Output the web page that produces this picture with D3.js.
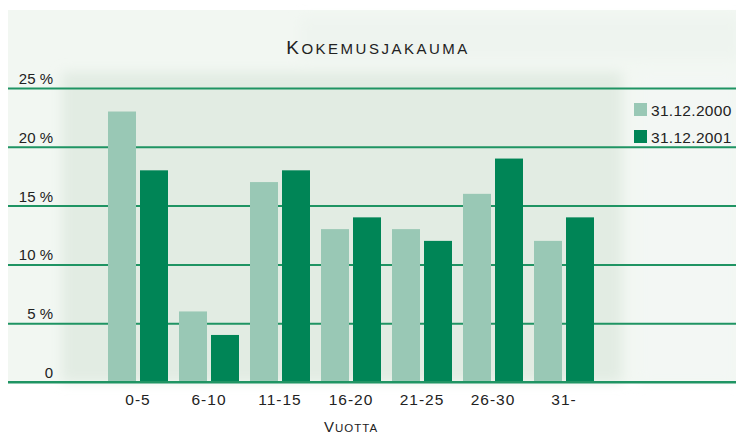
<!DOCTYPE html>
<html>
<head>
<meta charset="utf-8">
<script src="https://cdn.jsdelivr.net/npm/d3@7"></script>
<style>
	body { margin: 0; background: #fff; }
	svg { display: block; font-family: 'Liberation Sans', Arial, sans-serif; }
</style>
</head>
<body>
<script>
// data
var categories = ['0-5', '6-10', '11-15', '16-20', '21-25', '26-30', '31-'];
var seriesNames = ['31.12.2000', '31.12.2001'];
var values2000 = [23, 6, 17, 13, 13, 16, 12];
var values2001 = [18, 4, 18, 14, 12, 19, 14];
var yTicks = [0, 5, 10, 15, 20, 25];
var colors = ['#99c8b5', '#008556'];

var width = 736, height = 436;

var svg = d3.select('body')
	.append('svg')
	.attr('width', width)
	.attr('height', height);

var defs = svg.append('defs');
defs.append('filter').attr('id', 'blur')
	.append('feGaussianBlur').attr('stdDeviation', 6);

// background panel
svg.append('rect')
	.attr('x', 8).attr('y', 10)
	.attr('width', 728).attr('height', 372)
	.attr('fill', '#f2f7f2');
var bg = svg.append('g').attr('filter', 'url(#blur)');
bg.append('rect')
	.attr('x', 62).attr('y', 72)
	.attr('width', 560).attr('height', 310)
	.attr('fill', '#e2ece3');
bg.append('rect')
	.attr('x', 300).attr('y', 18)
	.attr('width', 440).attr('height', 40)
	.attr('fill', '#eef4ef');
bg.append('rect')
	.attr('x', 640).attr('y', 72)
	.attr('width', 96).attr('height', 310)
	.attr('fill', '#f3f7f4');

// scales
var x0 = d3.scaleBand()
	.domain(categories)
	.range([108, 594])
	.paddingInner(11 / 71)
	.paddingOuter(0);
var x1 = d3.scaleBand()
	.domain(seriesNames)
	.range([0, x0.bandwidth()])
	.paddingInner(0.125);
var y = d3.scaleLinear().domain([0, 25]).range([382, 88]);

// gridlines
var y_axis = d3.axisLeft(y)
	.tickValues(yTicks)
	.tickSize(-728)
	.tickFormat(function (d) { return d === 0 ? '0' : d + ' %'; });
var gy = svg.append('g')
	.attr('transform', 'translate(8,0)')
	.call(y_axis);
gy.select('.domain').remove();
gy.selectAll('.tick line')
	.attr('stroke', '#1f9463')
	.attr('stroke-width', 2);
gy.selectAll('.tick text')
	.attr('text-anchor', 'end')
	.attr('x', 45)
	.attr('dy', '-0.3em')
	.attr('fill', '#222')
	.style('font-size', '15px');

// bars
var rows = categories.map(function (c, i) {
	return { cat: c, vals: [values2000[i], values2001[i]] };
});
var groups = svg.append('g').selectAll('g')
	.data(rows)
	.join('g')
	.attr('transform', function (d) { return 'translate(' + x0(d.cat) + ',0)'; });
groups.selectAll('rect')
	.data(function (d) { return d.vals.map(function (v, j) { return { s: seriesNames[j], v: v, j: j }; }); })
	.join('rect')
	.attr('x', function (d) { return x1(d.s); })
	.attr('y', function (d) { return y(d.v); })
	.attr('width', x1.bandwidth())
	.attr('height', function (d) { return y(0) - y(d.v); })
	.attr('fill', function (d) { return colors[d.j]; });

// baseline
svg.append('line')
	.attr('x1', 8).attr('x2', 736)
	.attr('y1', y(0)).attr('y2', y(0))
	.attr('stroke', '#1f9463').attr('stroke-width', 2);

// x labels
var x_axis = d3.axisBottom(x0).tickSize(0).tickPadding(15);
var gx = svg.append('g')
	.attr('transform', 'translate(0,' + y(0) + ')')
	.call(x_axis);
gx.select('.domain').remove();
gx.selectAll('.tick text')
	.attr('fill', '#222')
	.attr('dy', '0.5em')
	.style('font-size', '15.5px')
	.style('letter-spacing', '1px');

// title (small caps)
var title = svg.append('text')
	.attr('x', 378).attr('y', 54)
	.attr('text-anchor', 'middle')
	.attr('fill', '#222')
	.style('letter-spacing', '2.5px');
title.append('tspan').style('font-size', '19px').text('K');
title.append('tspan').style('font-size', '15px').text('OKEMUSJAKAUMA');

// axis title
var xt = svg.append('text')
	.attr('x', x0('16-20') + x0.bandwidth() / 2).attr('y', 432)
	.attr('text-anchor', 'middle')
	.attr('fill', '#222')
	.style('letter-spacing', '1px');
xt.append('tspan').style('font-size', '15px').text('V');
xt.append('tspan').style('font-size', '11.5px').text('UOTTA');

// legend
var legend = svg.append('g').selectAll('g')
	.data(seriesNames)
	.join('g')
	.attr('transform', function (d, i) { return 'translate(634,' + (103 + i * 27) + ')'; });
legend.append('rect')
	.attr('width', 13).attr('height', 13)
	.attr('fill', function (d, i) { return colors[i]; });
legend.append('text')
	.attr('x', 17).attr('y', 12.5)
	.attr('fill', '#222')
	.style('font-size', '15.5px')
	.style('letter-spacing', '0.3px')
	.text(function (d) { return d; });
</script>
</body>
</html>
